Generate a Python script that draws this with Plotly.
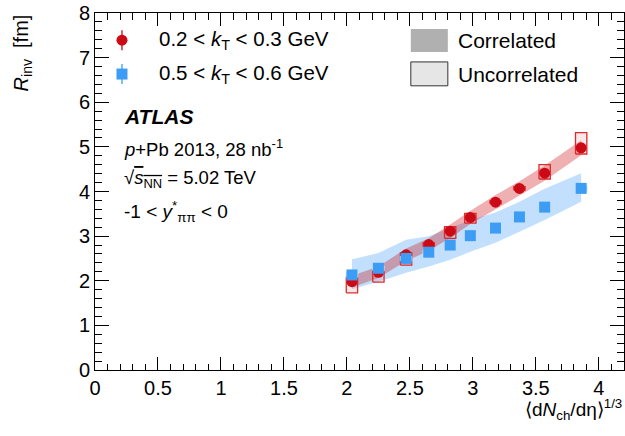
import plotly.graph_objects as go

# Multiplicity variable <dNch/deta>^(1/3) for each centrality bin
x_vals = [2.04, 2.25, 2.47, 2.65, 2.82, 2.98, 3.18, 3.37, 3.57, 3.86]

# R_inv [fm] for the two kT bins
r_low_kt = [1.98, 2.19, 2.58, 2.81, 3.11, 3.42, 3.76, 4.07, 4.41, 4.98]
r_high_kt = [2.13, 2.28, 2.50, 2.64, 2.80, 3.01, 3.18, 3.43, 3.65, 4.07]

# Correlated systematic uncertainties (bands)
corr_low_up = [0.13, 0.13, 0.14, 0.14, 0.15, 0.15, 0.16, 0.16, 0.17, 0.17]
corr_low_dn = [0.13, 0.13, 0.14, 0.14, 0.15, 0.15, 0.16, 0.16, 0.17, 0.17]
corr_high_up = [0.35, 0.34, 0.42, 0.36, 0.38, 0.35, 0.35, 0.34, 0.41, 0.34]
corr_high_dn = [0.32, 0.30, 0.32, 0.32, 0.33, 0.36, 0.33, 0.33, 0.29, 0.30]

# Uncorrelated systematic uncertainties (boxes)
unc_low_up = [0.10, 0.06, 0.05, 0.04, 0.10, 0.09, 0.03, 0.04, 0.19, 0.34]
unc_low_dn = [0.25, 0.22, 0.23, 0.04, 0.16, 0.13, 0.03, 0.04, 0.13, 0.14]
unc_high_up = [0.04, 0.04, 0.04, 0.04, 0.04, 0.04, 0.04, 0.04, 0.04, 0.05]
unc_high_dn = [0.05, 0.05, 0.05, 0.05, 0.05, 0.05, 0.05, 0.05, 0.05, 0.06]

legend_labels = ["0.2 < <i>k</i><sub>T</sub> < 0.3 GeV", "0.5 < <i>k</i><sub>T</sub> < 0.6 GeV"]

FONT = "Liberation Sans, Arial, Helvetica, sans-serif"
RED = "#cc0a16"
BLUE = "#3d9df5"
BOX_HALF_W = 0.045

fig = go.Figure()


def band(xs, ys, up, dn, color):
    upper = [y + u for y, u in zip(ys, up)]
    lower = [y - d for y, d in zip(ys, dn)]
    return go.Scatter(
        x=xs + xs[::-1], y=upper + lower[::-1], fill="toself", fillcolor=color,
        line=dict(width=0), mode="lines", hoverinfo="skip", showlegend=False,
    )


def boxes(xs, ys, up, dn, fill, edge):
    bx, by = [], []
    for xv, yv, u, d in zip(xs, ys, up, dn):
        x0, x1 = xv - BOX_HALF_W, xv + BOX_HALF_W
        bx += [x0, x1, x1, x0, x0, None]
        by += [yv - d, yv - d, yv + u, yv + u, yv - d, None]
    return go.Scatter(
        x=bx, y=by, fill="toself", fillcolor=fill, mode="lines",
        line=dict(color=edge, width=1.3), hoverinfo="skip", showlegend=False,
    )


# correlated bands
fig.add_trace(band(x_vals, r_high_kt, corr_high_up, corr_high_dn, "rgba(30,140,250,0.27)"))
fig.add_trace(band(x_vals, r_low_kt, corr_low_up, corr_low_dn, "rgba(200,0,0,0.31)"))

# uncorrelated boxes and points
fig.add_trace(boxes(x_vals, r_low_kt, unc_low_up, unc_low_dn, "rgba(235,80,80,0.13)", "#e02a2a"))
fig.add_trace(go.Scatter(x=x_vals, y=r_low_kt, mode="markers",
                         marker=dict(symbol="circle", size=11, color=RED), showlegend=False))
fig.add_trace(boxes(x_vals, r_high_kt, unc_high_up, unc_high_dn, "rgba(170,210,250,0.3)", "rgba(190,225,255,0.9)"))
fig.add_trace(go.Scatter(x=x_vals, y=r_high_kt, mode="markers",
                         marker=dict(symbol="square", size=11, color=BLUE), showlegend=False))

# legend symbols on an overlay axis in plot-fraction units
leg_x = [0.051, 0.051]
leg_y = [0.924, 0.829]
for i, (sym, col) in enumerate([("circle", RED), ("square", BLUE)]):
    fig.add_trace(go.Scatter(
        x=[leg_x[i]], y=[leg_y[i]], xaxis="x2", yaxis="y2", mode="markers",
        marker=dict(symbol=sym, size=11, color=col),
        error_y=dict(type="constant", value=0.028, color=col, thickness=1.3, width=0),
        showlegend=False, hoverinfo="skip",
    ))

axis_common = dict(
    showline=True, linecolor="black", linewidth=1, mirror="ticks",
    ticks="inside", tickcolor="black", showgrid=False, zeroline=False,
    tickfont=dict(family=FONT, size=20, color="black"),
)

fig.update_layout(
    width=625, height=436,
    margin=dict(l=95, r=1, t=13, b=66),
    paper_bgcolor="white", plot_bgcolor="white",
    font=dict(family=FONT, color="black"),
    xaxis=dict(range=[0, 4.2], dtick=0.5, tick0=0, ticklen=13,
               minor=dict(dtick=0.1, ticklen=6.5, ticks="inside", tickcolor="black"),
               **axis_common),
    yaxis=dict(range=[0, 8], dtick=1, tick0=0, ticklen=14,
               minor=dict(dtick=0.2, ticklen=7, ticks="inside", tickcolor="black"),
               **axis_common),
    xaxis2=dict(overlaying="x", range=[0, 1], visible=False),
    yaxis2=dict(overlaying="y", range=[0, 1], visible=False),
)

# legend boxes for systematic uncertainties
fig.add_shape(type="rect", xref="paper", yref="paper", x0=0.597, x1=0.667, y0=0.891, y1=0.955,
              fillcolor="#b0b0b0", line=dict(width=0))
fig.add_shape(type="rect", xref="paper", yref="paper", x0=0.597, x1=0.667, y0=0.796, y1=0.863,
              fillcolor="#e6e6e6", line=dict(color="#333333", width=1))

texts = [
    (0.117, 0.924, legend_labels[0], 20.5),
    (0.117, 0.829, legend_labels[1], 20.5),
    (0.682, 0.924, "Correlated", 21),
    (0.682, 0.829, "Uncorrelated", 21),
    (0.051, 0.709, "<b><i>ATLAS</i></b>", 21),
    (0.051, 0.622, "<i>p</i>+Pb 2013, 28 nb<sup>-1</sup>", 18.5),
    (0.051, 0.535, "√<span style='text-decoration:overline'><i>s</i><sub>NN</sub></span> = 5.02 TeV", 18.5),
    (0.051, 0.443, "-1 < <i>y</i><sup>*</sup><sub>ππ</sub> < 0", 19),
]
for tx, ty, txt, sz in texts:
    fig.add_annotation(x=tx, y=ty, xref="paper", yref="paper", text=txt, showarrow=False,
                       xanchor="left", yanchor="middle", font=dict(family=FONT, size=sz, color="black"))

# axis titles
fig.add_annotation(x=-0.138, y=1.003, xref="paper", yref="paper", textangle=-90,
                   text="<i>R</i><sub>inv</sub>  [fm]", showarrow=False,
                   xanchor="center", yanchor="top", font=dict(family=FONT, size=20, color="black"))
fig.add_annotation(x=1.0, y=-0.112, xref="paper", yref="paper",
                   text="⟨d<i>N</i><sub>ch</sub>/dη⟩<sup>1/3</sup>", showarrow=False,
                   xanchor="right", yanchor="middle", font=dict(family=FONT, size=19, color="black"))

fig.write_html("out.html")
